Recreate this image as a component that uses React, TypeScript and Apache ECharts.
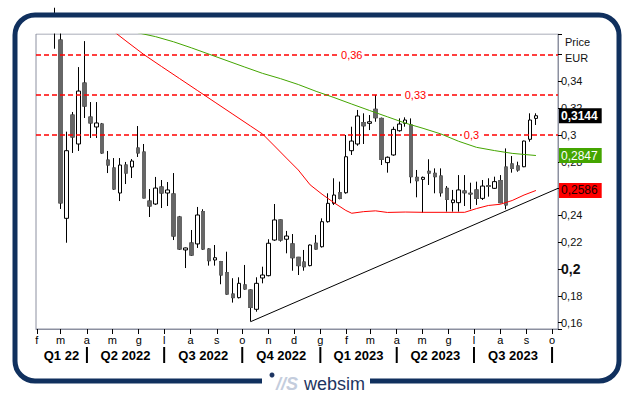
import React, { useEffect, useRef } from 'react';
import * as echarts from 'echarts';

const DAY = 86400000;
const FIRST_WEEK = Date.UTC(2022, 1, 22);
const AXIS_MIN = Date.UTC(2022, 0, 31);
const AXIS_MAX = Date.UTC(2023, 9, 8);

// weekly candles: [open, close, low, high]
const ohlc: number[][] = [
  [0.39, 0.38, 0.3644, 0.395],
  [0.3709, 0.2493, 0.2448, 0.385],
  [0.2378, 0.2883, 0.2196, 0.3025],
  [0.3149, 0.2985, 0.2866, 0.3172],
  [0.2933, 0.3328, 0.2881, 0.3507],
  [0.3388, 0.3216, 0.3127, 0.3701],
  [0.3134, 0.309, 0.2978, 0.3246],
  [0.306, 0.309, 0.2978, 0.3246],
  [0.3082, 0.2866, 0.286, 0.309],
  [0.2813, 0.2776, 0.2716, 0.2881],
  [0.2754, 0.2597, 0.259, 0.2828],
  [0.2567, 0.2776, 0.2507, 0.2828],
  [0.2776, 0.2716, 0.2634, 0.2799],
  [0.2761, 0.2806, 0.2679, 0.2821],
  [0.2903, 0.2866, 0.2836, 0.3067],
  [0.2873, 0.253, 0.2528, 0.2933],
  [0.2507, 0.247, 0.2388, 0.2597],
  [0.2485, 0.2604, 0.2478, 0.2687],
  [0.2612, 0.2567, 0.2455, 0.2664],
  [0.2567, 0.259, 0.247, 0.2649],
  [0.256, 0.2246, 0.2216, 0.2716],
  [0.2388, 0.2149, 0.2142, 0.2396],
  [0.2142, 0.2157, 0.2007, 0.216],
  [0.2194, 0.2104, 0.2097, 0.2291],
  [0.2187, 0.2403, 0.2157, 0.2463],
  [0.2428, 0.2149, 0.2142, 0.2446],
  [0.2149, 0.2062, 0.2025, 0.2155],
  [0.2067, 0.2084, 0.2025, 0.2179],
  [0.2055, 0.1955, 0.1886, 0.206],
  [0.1972, 0.1813, 0.1808, 0.2129],
  [0.1813, 0.1786, 0.1749, 0.1931],
  [0.1786, 0.1893, 0.178, 0.1938],
  [0.1881, 0.1851, 0.1845, 0.203],
  [0.1843, 0.1714, 0.1607, 0.1848],
  [0.1699, 0.1893, 0.1681, 0.1938],
  [0.1933, 0.1955, 0.1893, 0.2017],
  [0.195, 0.2192, 0.1945, 0.2222],
  [0.2216, 0.2366, 0.221, 0.2485],
  [0.2366, 0.2216, 0.2204, 0.237],
  [0.2222, 0.2246, 0.2117, 0.2284],
  [0.2187, 0.2084, 0.1987, 0.2261],
  [0.2087, 0.2025, 0.1955, 0.209],
  [0.2052, 0.2017, 0.1987, 0.2142],
  [0.2025, 0.2179, 0.202, 0.2183],
  [0.2192, 0.2149, 0.2145, 0.2254],
  [0.2166, 0.2353, 0.216, 0.2378],
  [0.2353, 0.249, 0.2346, 0.2565],
  [0.249, 0.2552, 0.2478, 0.2677],
  [0.2569, 0.2527, 0.252, 0.2652],
  [0.2569, 0.2838, 0.2562, 0.3],
  [0.2883, 0.2955, 0.2851, 0.3062],
  [0.2933, 0.3142, 0.292, 0.3187],
  [0.3092, 0.3069, 0.2933, 0.3162],
  [0.3087, 0.3099, 0.3037, 0.3149],
  [0.3192, 0.3129, 0.3099, 0.3299],
  [0.3124, 0.2819, 0.2776, 0.313],
  [0.2794, 0.2834, 0.2719, 0.284],
  [0.2851, 0.3042, 0.2845, 0.3062],
  [0.3032, 0.3082, 0.3025, 0.3124],
  [0.3087, 0.3112, 0.3062, 0.3132],
  [0.3075, 0.2689, 0.264, 0.3124],
  [0.2684, 0.2659, 0.2535, 0.2739],
  [0.2669, 0.2684, 0.242, 0.269],
  [0.2729, 0.2716, 0.2627, 0.2819],
  [0.2714, 0.2689, 0.2565, 0.2751],
  [0.2694, 0.2569, 0.254, 0.2751],
  [0.2602, 0.252, 0.2428, 0.2619],
  [0.2495, 0.2515, 0.2428, 0.259],
  [0.2495, 0.259, 0.2428, 0.2701],
  [0.2582, 0.2569, 0.247, 0.2701],
  [0.2565, 0.256, 0.2446, 0.2644],
  [0.259, 0.2527, 0.2478, 0.2652],
  [0.2527, 0.2619, 0.2515, 0.2664],
  [0.2621, 0.2617, 0.254, 0.2677],
  [0.2602, 0.2652, 0.2598, 0.2689],
  [0.2659, 0.2495, 0.249, 0.2701],
  [0.2761, 0.2478, 0.2446, 0.29],
  [0.2784, 0.2751, 0.2719, 0.2843],
  [0.2769, 0.2739, 0.2726, 0.2801],
  [0.2763, 0.2955, 0.276, 0.2958],
  [0.2968, 0.3112, 0.295, 0.3162],
  [0.3124, 0.3144, 0.3075, 0.3162],
];

// moving averages: [week index, value]
const redMA: number[][] = [
  [9, 0.3805], [10, 0.3771], [12, 0.3702], [15, 0.3601], [18, 0.3511], [21, 0.3422],
  [24, 0.3333], [27, 0.3244], [30, 0.3155], [33, 0.3066], [35, 0.3007], [37, 0.2918],
  [39, 0.2828], [41, 0.2739], [43, 0.2628], [45, 0.2558], [47, 0.2495], [49, 0.2437],
  [50, 0.2416], [52, 0.2428], [54, 0.2434], [56, 0.2422], [59, 0.2425], [62, 0.2423],
  [69, 0.2423], [71, 0.2451], [73, 0.2474], [75, 0.2483], [77, 0.2511], [79, 0.2552],
  [81, 0.2586],
];
const greenMA: number[][] = [
  [14, 0.3763], [17, 0.3734], [20, 0.3696], [23, 0.3651], [26, 0.3603], [29, 0.3555],
  [32, 0.3507], [35, 0.346], [38, 0.3421], [41, 0.3377], [44, 0.3326], [47, 0.328],
  [50, 0.3231], [53, 0.3183], [56, 0.3136], [59, 0.3089], [62, 0.305], [65, 0.3008],
  [68, 0.2953], [71, 0.2908], [74, 0.2884], [77, 0.2863], [79, 0.2855], [81, 0.2847],
];

const trendStartWeek = 33;
const trendStartValue = 0.1607;
const trendEndValue = 0.2602;

const levels = [0.36, 0.33, 0.3];
const levelLabels = ['0,36', '0,33', '0,3'];
const levelLabelDates = ['2023-02-07', '2023-04-23', '2023-06-28'];

const lastClose = 0.3144;
const lastGreen = 0.2847;
const lastRed = 0.2586;

const monthLetters = ['g', 'f', 'm', 'a', 'm', 'g', 'l', 'a', 's', 'o', 'n', 'd'];
const quarterLabels = ['Q1 22', 'Q2 2022', 'Q3 2022', 'Q4 2022', 'Q1 2023', 'Q2 2023', 'Q3 2023'];
const quarterStarts = [
  [2022, 0], [2022, 3], [2022, 6], [2022, 9], [2023, 0], [2023, 3], [2023, 6], [2023, 9],
];

const FONT = '"Liberation Sans", Arial, sans-serif';
const weekDate = (i: number) => FIRST_WEEK + 7 * i * DAY;

export default function App() {
  const ref = useRef<HTMLDivElement>(null);
  useEffect(() => {
    document.body.style.margin = '0';
    const chart = echarts.init(ref.current!, null, { renderer: 'svg' });
    const lastDate = weekDate(ohlc.length - 1);

    const candleData = ohlc.map((d, i) => [weekDate(i), d[0], d[1], d[2], d[3]]);
    const bearBodies = ohlc
      .map((d, i) => ({ d, i }))
      .filter(({ d }) => d[0] > d[1])
      .map(({ d, i }) => [weekDate(i), d[0], d[1], d[1], d[0]]);

    const endLabel = (value: number, text: string, bg: string, color: string, bold: boolean) => [
      {
        coord: [lastDate, value],
        lineStyle: { color: 'rgba(0,0,0,0)', width: 0, type: 'solid' },
        label: {
          show: true,
          position: 'end',
          distance: 1,
          formatter: text,
          backgroundColor: bg,
          color,
          fontFamily: FONT,
          fontSize: 12,
          fontWeight: bold ? 'bold' : 'normal',
          padding: [2, 4, 1, 2],
        },
      },
      { coord: [AXIS_MAX, value] },
    ];

    const option: any = {
      animation: false,
      useUTC: true,
      textStyle: { fontFamily: FONT },
      grid: {
        left: 36, right: 75, top: 34, bottom: 67,
        show: true, borderColor: '#8c90a0', borderWidth: 1, backgroundColor: '#fff',
      },
      xAxis: {
        type: 'time',
        min: AXIS_MIN,
        max: AXIS_MAX,
        minInterval: 28 * DAY,
        maxInterval: 31 * DAY,
        splitLine: { show: false },
        axisLine: { show: true, lineStyle: { color: '#8c90a0', width: 1 } },
        axisTick: { show: true, length: 5, lineStyle: { color: '#000' } },
        axisLabel: {
          color: '#000',
          fontSize: 11,
          fontFamily: FONT,
          margin: 11,
          verticalAlign: 'middle',
          showMinLabel: false,
          showMaxLabel: false,
          formatter: (v: number) => {
            const d = new Date(v);
            if (d.getUTCDate() !== 1) return '';
            return monthLetters[d.getUTCMonth()];
          },
        },
      },
      yAxis: {
        type: 'value',
        position: 'right',
        min: 0.1552,
        max: 0.3754,
        splitNumber: 11,
        scale: true,
        splitLine: { show: false },
        axisLine: { show: true, lineStyle: { color: '#8c90a0' } },
        axisTick: { show: true, length: 4, lineStyle: { color: '#000' } },
        axisLabel: {
          color: '#111',
          fontSize: 11,
          fontFamily: FONT,
          margin: 3,
          formatter: (v: number) => {
            const k = v * 50;
            if (Math.abs(k - Math.round(k)) > 1e-6) return '';
            if (v > 0.35) return '';
            const t = String(Math.round(v * 100) / 100).replace('.', ',');
            if (Math.abs(v - 0.2) < 1e-6) return '{b|' + t + '}';
            return t;
          },
          rich: { b: { fontWeight: 'bold', fontSize: 14, color: '#111', fontFamily: FONT } },
        },
      },
      series: [
        {
          name: 'Prezzo',
          type: 'candlestick',
          data: candleData,
          barWidth: 4,
          clip: true,
          itemStyle: {
            color: '#ffffff', color0: '#666666',
            borderColor: '#000000', borderColor0: '#000000', borderWidth: 1,
          },
          z: 3,
          markLine: {
            silent: true,
            symbol: ['none', 'none'],
            animation: false,
            lineStyle: { type: [5, 3], color: '#ff0000', width: 1.5 },
            label: { show: false },
            data: levels.map((v) => ({ yAxis: v })),
          },
          markPoint: {
            silent: true,
            symbol: 'rect',
            symbolSize: [1, 1],
            itemStyle: { color: 'rgba(0,0,0,0)' },
            label: {
              show: true,
              position: 'inside',
              formatter: (p: any) => p.name,
              color: '#ff0000',
              fontSize: 11,
              fontFamily: FONT,
              backgroundColor: '#ffffff',
              padding: [1, 2],
            },
            data: levels.map((v, k) => ({
              name: levelLabels[k],
              coord: [Date.parse(levelLabelDates[k]), v],
            })),
          },
        },
        {
          name: 'bodies',
          type: 'candlestick',
          data: bearBodies,
          barWidth: 4,
          clip: true,
          silent: true,
          z: 4,
          itemStyle: {
            color: '#666666', color0: '#666666',
            borderColor: '#666666', borderColor0: '#666666', borderWidth: 1,
          },
          markLine: {
            silent: true,
            symbol: ['none', 'none'],
            data: [endLabel(lastClose, '0,3144', '#000000', '#ffffff', true)],
          },
        },
        {
          name: 'MA red',
          type: 'line',
          data: redMA.map(([w, v]) => [weekDate(w), v]),
          symbol: 'none',
          z: 5,
          lineStyle: { color: '#ff0000', width: 1 },
          markLine: {
            silent: true,
            symbol: ['none', 'none'],
            data: [endLabel(lastRed, '0,2586', '#ff0000', '#220000', false)],
          },
        },
        {
          name: 'MA green',
          type: 'line',
          data: greenMA.map(([w, v]) => [weekDate(w), v]),
          symbol: 'none',
          z: 5,
          lineStyle: { color: '#44a500', width: 1 },
          markLine: {
            silent: true,
            symbol: ['none', 'none'],
            data: [endLabel(lastGreen, '0,2847', '#44a500', '#ffffff', false)],
          },
        },
        {
          name: 'Trend',
          type: 'line',
          data: [
            [weekDate(trendStartWeek), trendStartValue],
            [AXIS_MAX, trendEndValue],
          ],
          symbol: 'none',
          z: 6,
          lineStyle: { color: '#000', width: 1 },
        },
      ],
    };
    chart.setOption(option);

    const px = (t: number) => chart.convertToPixel({ xAxisIndex: 0 }, t) as number;
    const qTimes = quarterStarts.map(([y, m]) => Date.UTC(y, m, 1));
    const graphics: any[] = [
      // white mask above the plot so that candles above the axis range stay hidden
      {
        type: 'rect',
        shape: { x: 20, y: 17, width: 540, height: 16.5 },
        style: { fill: '#ffffff' },
        z: 50,
        silent: true,
      },
      {
        type: 'rect',
        shape: { x: 15, y: 15, width: 604, height: 366, r: 20 },
        style: { fill: 'none', stroke: '#10305e', lineWidth: 5 },
        z: 60,
        silent: true,
      },
      {
        type: 'text',
        x: 565, y: 34,
        style: { text: 'Price\nEUR', fill: '#111', font: '11px ' + FONT, lineHeight: 16 },
        silent: true,
      },
    ];
    for (let k = 1; k < qTimes.length; k++) {
      const x = px(qTimes[k]);
      graphics.push({
        type: 'line',
        shape: { x1: x, y1: 347, x2: x, y2: 363 },
        style: { stroke: '#000', lineWidth: 2 },
        silent: true,
      });
    }
    for (let k = 0; k < quarterLabels.length; k++) {
      const a = px(Math.max(qTimes[k], AXIS_MIN));
      const b = px(qTimes[k + 1]);
      graphics.push({
        type: 'text',
        x: (a + b) / 2, y: 355,
        style: {
          text: quarterLabels[k], fill: '#000', font: 'bold 13px ' + FONT,
          align: 'center', verticalAlign: 'middle',
        },
        silent: true,
      });
    }
    graphics.push(
      {
        type: 'rect',
        shape: { x: 262, y: 372, width: 108, height: 22 },
        style: { fill: '#ffffff' },
        z: 70,
        silent: true,
      },
      {
        type: 'circle',
        shape: { cx: 272, cy: 375, r: 2.5 },
        style: { fill: '#1d3461' },
        z: 71,
        silent: true,
      },
      {
        type: 'text',
        x: 276, y: 384,
        style: {
          text: '//S', fill: '#c4cddd', font: 'italic bold 18px ' + FONT,
          verticalAlign: 'middle',
        },
        z: 71,
        silent: true,
      },
      {
        type: 'text',
        x: 304, y: 384,
        style: {
          text: 'websim', fill: '#1d3461', font: '18px ' + FONT,
          verticalAlign: 'middle',
        },
        z: 71,
        silent: true,
      },
    );
    chart.setOption({ graphic: graphics });

    return () => chart.dispose();
  }, []);
  return <div ref={ref} style={{ width: 633, height: 396 }} />;
}
